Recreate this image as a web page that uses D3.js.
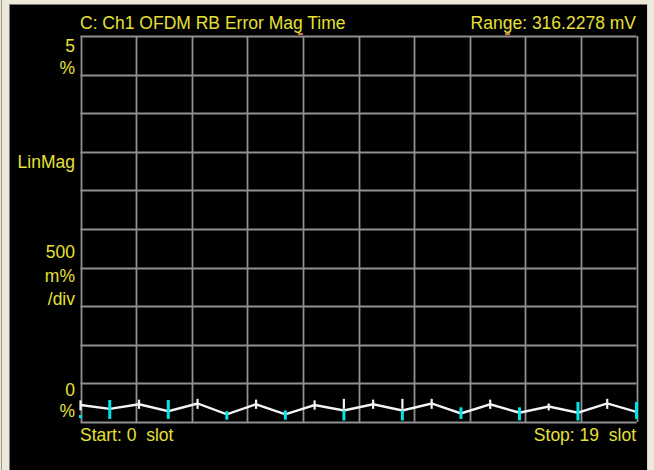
<!DOCTYPE html>
<html><head><meta charset="utf-8">
<script src="https://cdn.jsdelivr.net/npm/d3@7"></script>
<style>
html,body{margin:0;padding:0;background:#000;}
svg{display:block;}
text{font-family:"Liberation Sans",Arial,sans-serif;font-size:17.5px;fill:#e6e036;white-space:pre;}
</style></head>
<body>
<script>
// ---- data ----
const slots = d3.range(0, 20);                 // slot numbers 0..19
const errMag = [0.22,0.17,0.23,0.14,0.24,0.10,0.23,0.10,0.22,0.15,0.23,0.15,0.24,0.11,0.23,0.12,0.20,0.12,0.24,0.13]; // %
const whiteHi = [0.28,null,0.29,null,0.30,null,0.29,null,0.28,0.30,0.29,0.30,0.30,null,0.29,null,0.24,null,0.30,null];
const whiteLo = [0.15,null,0.17,null,0.17,null,0.17,null,0.16,0.17,0.17,0.17,0.17,null,0.17,null,0.15,null,0.17,null];
const cyanHi  = [0.09,0.285,null,0.285,null,0.14,null,0.15,null,0.15,null,0.15,null,0.19,null,0.19,null,0.26,null,0.26];
const cyanLo  = [0.05,0.04,null,0.04,null,0.03,null,0.03,null,0.02,null,0.02,null,0.04,null,0.02,null,0.02,null,0.04];
const yGridVals = d3.range(0, 5.001, 0.5);
const xDivs = d3.range(0, 11);
const title = "C: Ch1 OFDM RB Error Mag Time";
const rangeLabel = "Range: 316.2278 mV";
const startLabel = "Start: 0  slot";
const stopLabel = "Stop: 19  slot";

const W = 654, H = 470;
const svg = d3.select("body").append("svg").attr("width", W).attr("height", H);

// window frame
svg.append("rect").attr("x",0).attr("y",0).attr("width",W).attr("height",H).attr("fill","#ece9d8");
svg.append("rect").attr("x",10).attr("y",5).attr("width",637).attr("height",H-5).attr("fill","#000");
svg.append("line").attr("x1",1.5).attr("x2",1.5).attr("y1",0).attr("y2",H).attr("stroke","#9a988c");
svg.append("line").attr("x1",9.5).attr("x2",9.5).attr("y1",4).attr("y2",H).attr("stroke","#7a7870");
svg.append("line").attr("x1",9).attr("x2",648).attr("y1",4.5).attr("y2",4.5).attr("stroke","#7a7870");

const x = d3.scaleLinear().domain([0, 19]).range([80.5, 636.5]);
const xd = d3.scaleLinear().domain([0, 10]).range([80.5, 636.5]);
const y = d3.scaleLinear().domain([0, 5]).range([422, 36]);

const g = svg.append("g");
g.selectAll(".vg").data(xDivs).join("line")
  .attr("x1", d => Math.round(xd(d)) + 0.5).attr("x2", d => Math.round(xd(d)) + 0.5)
  .attr("y1", y(5)).attr("y2", y(0))
  .attr("stroke", "#909090").attr("stroke-width", 1.8);
g.selectAll(".hg").data(yGridVals).join("line")
  .attr("y1", d => Math.round(y(d)) + 0.5).attr("y2", d => Math.round(y(d)) + 0.5)
  .attr("x1", x(0)).attr("x2", x(19))
  .attr("stroke", "#909090").attr("stroke-width", 1.8);

// small orange markers on top border
svg.selectAll(".om").data([300, 507]).join("rect")
  .attr("x", d => d - 2).attr("y", 33).attr("width", 5).attr("height", 2).attr("fill", "#c8783c");

// trace
const line = d3.line().x((d, i) => x(slots[i])).y(d => y(d));
svg.append("path").datum(errMag).attr("d", line)
  .attr("fill", "none").attr("stroke", "#f4f4f4").attr("stroke-width", 2.4);

// white ticks
svg.selectAll(".wt").data(slots.filter(i => whiteHi[i] != null)).join("line")
  .attr("x1", i => x(i)).attr("x2", i => x(i))
  .attr("y1", i => y(whiteHi[i])).attr("y2", i => y(whiteLo[i]))
  .attr("stroke", "#f4f4f4").attr("stroke-width", 2.2);
// cyan bars
svg.selectAll(".cb").data(slots.filter(i => cyanHi[i] != null)).join("line")
  .attr("x1", i => x(i)).attr("x2", i => x(i))
  .attr("y1", i => y(cyanHi[i])).attr("y2", i => y(cyanLo[i]))
  .attr("stroke", "#00e4e8").attr("stroke-width", 3);

// texts
svg.append("text").attr("x", 80).attr("y", 29).text(title);
svg.append("text").attr("x", 636).attr("y", 29).attr("text-anchor", "end").text(rangeLabel);
const left = [["5",52],["%",74],["LinMag",167.5],["500",258],["m%",282],["/div",305],["0",396],["%",417]];
svg.selectAll(".ll").data(left).join("text")
  .attr("x", 75).attr("y", d => d[1]).attr("text-anchor", "end").text(d => d[0]);
svg.append("text").attr("x", 80).attr("y", 441).text(startLabel);
svg.append("text").attr("x", 636).attr("y", 441).attr("text-anchor", "end").text(stopLabel);

// right border
svg.append("rect").attr("x", 647).attr("y", 0).attr("width", 7).attr("height", H).attr("fill", "#ece9d8");
svg.append("line").attr("x1", 647.5).attr("x2", 647.5).attr("y1", 4).attr("y2", H).attr("stroke", "#d8d6cc");
</script>
</body></html>
